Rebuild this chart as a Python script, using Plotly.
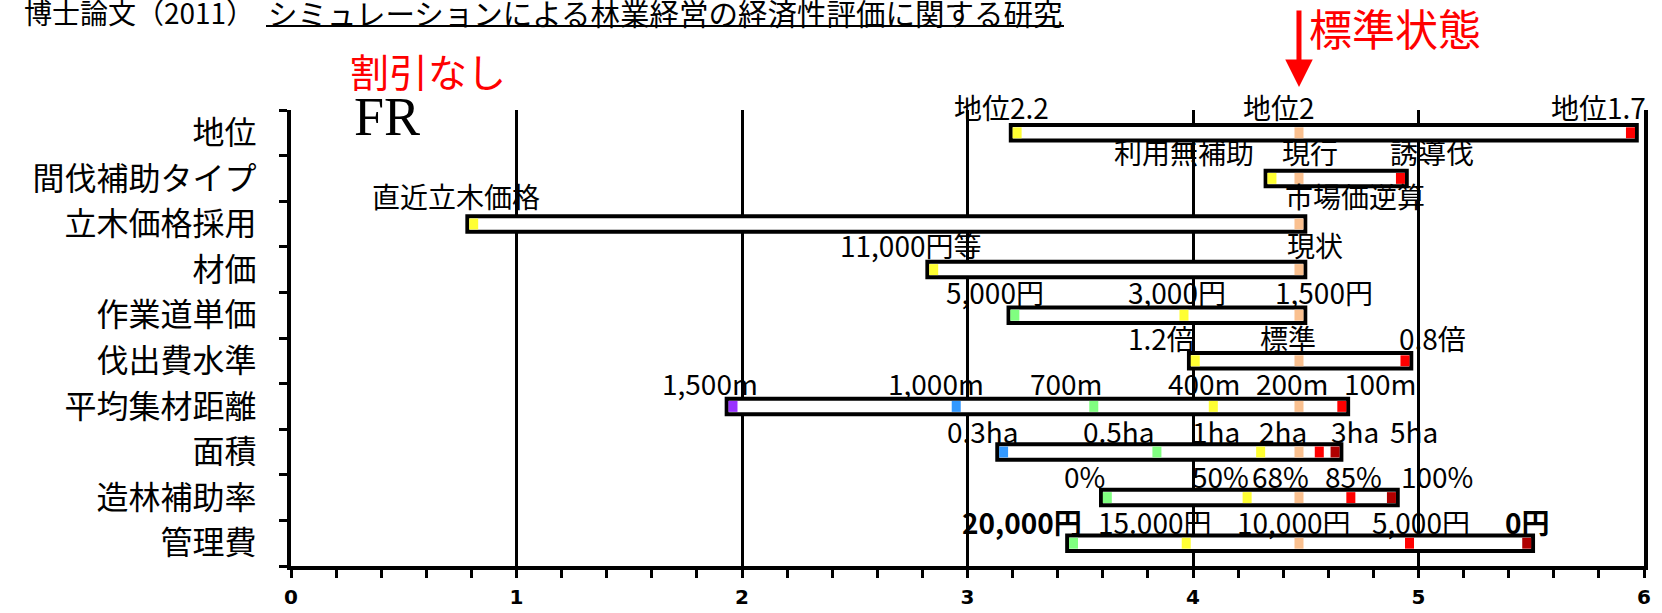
import plotly.graph_objects as go

# ---------------- data ----------------
categories = ["地位", "間伐補助タイプ", "立木価格採用", "材価", "作業道単価",
              "伐出費水準", "平均集材距離", "面積", "造林補助率", "管理費"]

standard_value = 4.47

site_values = [3.22, 4.47, 5.94]
site_labels = ["地位2.2", "地位2", "地位1.7"]
site_kinds = ["Y", "O", "R"]

thinning_values = [4.35, 4.47, 4.92]
thinning_labels = ["利用無補助", "現行", "誘導伐"]
thinning_kinds = ["Y", "O", "R"]

stumpage_values = [0.81, 4.47]
stumpage_labels = ["直近立木価格", "市場価逆算"]
stumpage_kinds = ["Y", "O"]

timber_values = [2.85, 4.47]
timber_labels = ["11,000円等", "現状"]
timber_kinds = ["Y", "O"]

road_values = [3.21, 3.96, 4.47]
road_labels = ["5,000円", "3,000円", "1,500円"]
road_kinds = ["G", "Y", "O"]

harvest_values = [4.01, 4.47, 4.94]
harvest_labels = ["1.2倍", "標準", "0.8倍"]
harvest_kinds = ["Y", "O", "R"]

skidding_values = [1.96, 2.95, 3.56, 4.09, 4.47, 4.66]
skidding_labels = ["1,500m", "1,000m", "700m", "400m", "200m", "100m"]
skidding_kinds = ["P", "B", "G", "Y", "O", "R"]

area_values = [3.16, 3.84, 4.30, 4.47, 4.56, 4.63]
area_labels = ["0.3ha", "0.5ha", "1ha", "2ha", "3ha", "5ha"]
area_kinds = ["B", "G", "Y", "O", "R", "D"]

planting_values = [3.62, 4.24, 4.47, 4.70, 4.88]
planting_labels = ["0%", "50%", "68%", "85%", "100%"]
planting_kinds = ["G", "Y", "O", "R", "D"]

management_values = [3.47, 3.97, 4.47, 4.96, 5.48]
management_labels = ["20,000円", "15.000円", "10,000円", "5,000円", "0円"]
management_kinds = ["G", "Y", "O", "R", "D"]

x_ticks = [0, 1, 2, 3, 4, 5, 6]

# ---------------- layout / style ----------------
label_x = [
    [3.15, 4.38, 5.80],
    [3.96, 4.52, 5.06],
    [0.73, 4.72],
    [2.75, 4.54],
    [3.12, 3.93, 4.58],
    [3.86, 4.42, 5.06],
    [1.86, 2.86, 3.44, 4.05, 4.44, 4.83],
    [3.07, 3.67, 4.10, 4.40, 4.72, 4.98],
    [3.52, 4.12, 4.39, 4.71, 5.08],
    [3.24, 3.83, 4.45, 5.01, 5.485],
]
label_dy = [26, 26, 28, 25, 23, 23, 23, 21, 22, 21]
bold_labels = {"20,000円", "0円"}

kind_colors = {"Y": "#FFFF33", "O": "#FAC08F", "R": "#FF0000", "D": "#B00000",
               "G": "#80FF80", "B": "#3399FF", "P": "#9933FF"}

PAD = 0.028
HALF_W = 0.02

rows = [
    (site_values, site_labels, site_kinds),
    (thinning_values, thinning_labels, thinning_kinds),
    (stumpage_values, stumpage_labels, stumpage_kinds),
    (timber_values, timber_labels, timber_kinds),
    (road_values, road_labels, road_kinds),
    (harvest_values, harvest_labels, harvest_kinds),
    (skidding_values, skidding_labels, skidding_kinds),
    (area_values, area_labels, area_kinds),
    (planting_values, planting_labels, planting_kinds),
    (management_values, management_labels, management_kinds),
]

L, R, T, B = 291, 18, 110, 47
W, H = 1662, 613
PW, PH = W - L - R, H - T - B


def px_x(px):
    return (px - L) / PW


def px_y(py):
    return (H - B - py) / PH


fig = go.Figure()

bar_y, bar_base, bar_len = [], [], []
m_y, m_base, m_len, m_col = [], [], [], []
annotations = []
for i, (vals, labs, kinds) in enumerate(rows):
    lo, hi = min(vals), max(vals)
    bar_y.append(i)
    bar_base.append(lo - PAD)
    bar_len.append(hi - lo + 2 * PAD)
    for v, k in zip(vals, kinds):
        m_y.append(i)
        m_base.append(v - HALF_W)
        m_len.append(2 * HALF_W)
        m_col.append(kind_colors[k])
    for lab, lx in zip(labs, label_x[i]):
        txt = f"<b>{lab}</b>" if lab in bold_labels else lab
        annotations.append(dict(x=lx, y=i, xref="x", yref="y", text=txt,
                                showarrow=False, yshift=label_dy[i],
                                xanchor="center", yanchor="middle",
                                font=dict(size=28, color="black",
                                          family="Noto Sans CJK JP")))

fig.add_trace(go.Bar(orientation="h", y=bar_y, x=bar_len, base=bar_base,
                     width=0.34, hoverinfo="skip",
                     marker=dict(color="white", line=dict(color="black", width=4))))
fig.add_trace(go.Bar(orientation="h", y=m_y, x=m_len, base=m_base,
                     width=0.24, hoverinfo="skip",
                     marker=dict(color=m_col, line=dict(width=0))))

# decorative texts
annotations += [
    dict(x=px_x(22), y=px_y(12), xref="paper", yref="paper", text="博士論文（2011）",
         showarrow=False, xanchor="left", yanchor="middle",
         font=dict(size=28, color="black", family="Noto Sans CJK JP")),
    dict(x=px_x(266), y=px_y(12), xref="paper", yref="paper",
         text="シミュレーションによる林業経営の経済性評価に関する研究",
         showarrow=False, xanchor="left", yanchor="middle",
         font=dict(size=29.5, color="black", family="Noto Sans CJK JP")),
    dict(x=px_x(428), y=px_y(70), xref="paper", yref="paper", text="割引なし",
         showarrow=False, xanchor="center", yanchor="middle",
         font=dict(size=39, color="#FF0000", family="Noto Sans CJK JP")),
    dict(x=px_x(387), y=px_y(117), xref="paper", yref="paper", text="FR",
         showarrow=False, xanchor="center", yanchor="middle",
         font=dict(size=54, color="black", family="Liberation Serif")),
    dict(x=px_x(1395), y=px_y(27), xref="paper", yref="paper", text="標準状態",
         showarrow=False, xanchor="center", yanchor="middle",
         font=dict(size=43, color="#FF0000", family="Noto Sans CJK JP")),
    dict(x=standard_value, y=px_y(87), xref="x", yref="paper", text="",
         showarrow=True, ax=0, ay=-78, arrowcolor="#FF0000", arrowwidth=5,
         arrowhead=2, arrowsize=1.1, standoff=0),
]

fig.update_layout(
    width=W, height=H,
    margin=dict(l=L, r=R, t=T, b=B, pad=0, autoexpand=False),
    paper_bgcolor="white", plot_bgcolor="white",
    barmode="overlay", showlegend=False, hovermode=False,
    font=dict(family="Noto Sans CJK JP", color="black"),
    annotations=annotations,
    shapes=[dict(type="line", xref="paper", yref="paper",
                 x0=px_x(266), x1=px_x(1064), y0=px_y(26), y1=px_y(26),
                 line=dict(color="black", width=2))],
    xaxis=dict(range=[0, 6], tickmode="array", tickvals=x_ticks,
               ticktext=[str(t) for t in x_ticks], automargin=False,
               ticks="outside", ticklen=8, tickwidth=3, tickcolor="black",
               showline=True, linecolor="black", linewidth=4,
               showgrid=True, gridcolor="black", gridwidth=3, zeroline=False,
               minor=dict(tickmode="linear", tick0=0, dtick=0.2, ticks="outside",
                          ticklen=8, tickwidth=2.5, tickcolor="black", showgrid=False),
               tickfont=dict(family="DejaVu Sans", size=20, color="black", weight="bold"),
               ticklabelstandoff=2, fixedrange=True),
    yaxis=dict(range=[9.5, -0.5], tickmode="array", tickvals=list(range(len(categories))),
               ticktext=categories, ticks="", showline=True, linecolor="black",
               linewidth=4, showgrid=False, zeroline=False, mirror=True, automargin=False,
               minor=dict(tickmode="linear", tick0=-0.5, dtick=1, ticks="outside",
                          ticklen=8, tickwidth=3, tickcolor="black", showgrid=False),
               tickfont=dict(family="Noto Sans CJK JP", size=32, color="black"),
               ticklabelstandoff=24, fixedrange=True),
)

fig.write_html("out.html", config={"displayModeBar": False},
               post_script="document.body.style.margin='0';"
                           "document.body.style.overflow='hidden';")
